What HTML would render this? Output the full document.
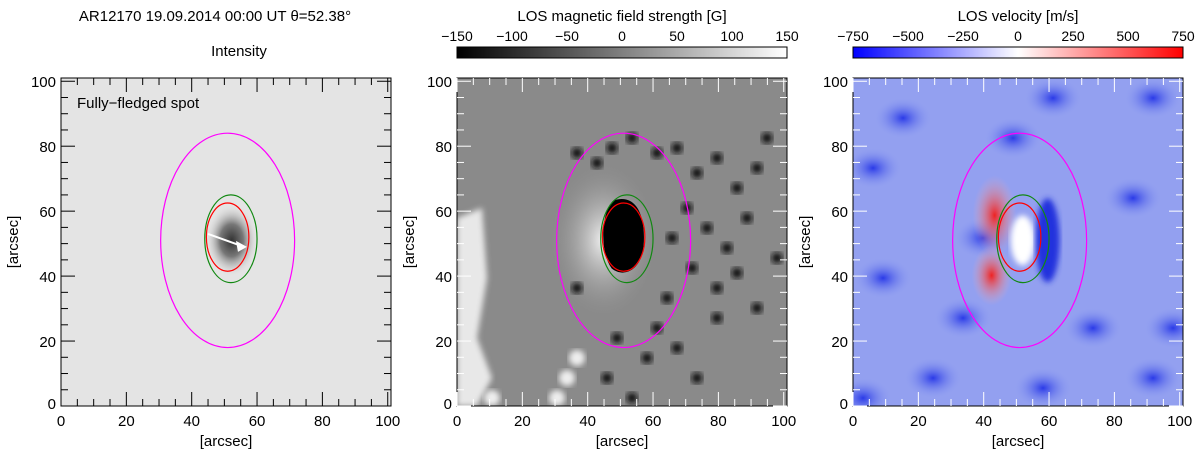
<!DOCTYPE html>
<html><head><meta charset="utf-8"><style>
body{margin:0;background:#fff;}
svg{display:block;font-family:"Liberation Sans",sans-serif;}
</style></head><body>
<svg id="fig" width="1200" height="454" viewBox="0 0 1200 454">
<defs>
<linearGradient id="gbar" x1="0" x2="1"><stop offset="0" stop-color="#000"/><stop offset="1" stop-color="#fff"/></linearGradient>
<linearGradient id="vbar" x1="0" x2="1"><stop offset="0" stop-color="#0000ff"/><stop offset="0.5" stop-color="#fff"/><stop offset="1" stop-color="#ff0000"/></linearGradient>
<radialGradient id="spot1"><stop offset="0" stop-color="#333"/><stop offset="0.45" stop-color="#777"/><stop offset="1" stop-color="#e4e4e4" stop-opacity="0"/></radialGradient>
<radialGradient id="pen2"><stop offset="0" stop-color="#fff" stop-opacity="0.9"/><stop offset="1" stop-color="#888" stop-opacity="0"/></radialGradient>
<radialGradient id="blu"><stop offset="0" stop-color="#2a3ae8"/><stop offset="1" stop-color="#8898f0" stop-opacity="0"/></radialGradient>
<radialGradient id="red3"><stop offset="0" stop-color="#ee2222"/><stop offset="1" stop-color="#f6b0b0" stop-opacity="0"/></radialGradient>
<filter id="blur"><feGaussianBlur stdDeviation="3"/></filter>
</defs>
<text x="215" y="21" font-size="15" text-anchor="middle">AR12170  19.09.2014 00:00 UT  θ=52.38°</text>
<text x="239" y="56" font-size="15" text-anchor="middle">Intensity</text>
<text x="622" y="21" font-size="15" text-anchor="middle">LOS magnetic field strength [G]</text>
<text x="1018" y="21" font-size="15" text-anchor="middle">LOS velocity [m/s]</text>
<rect x="457" y="47" width="330" height="11" fill="url(#gbar)" stroke="#000"/>
<rect x="853" y="47" width="330" height="11" fill="url(#vbar)" stroke="#000"/>
<g id="panels"></g>
</svg>
<script>
const axisTicks=[0,20,40,60,80,100];
const magTicks=[-150,-100,-50,0,50,100,150];
const velTicks=[-750,-500,-250,0,250,500,750];
const panelLefts=[61,457,853];
const magentaEllipse=[51,51,20.5,33];
const greenEllipse=[52,51.5,8,13.5];
const redEllipse=[51,52,6.5,10.5];
const arrowData=[45,53,56,49];
const NS='http://www.w3.org/2000/svg';
const svg=document.getElementById('fig');
const G=document.getElementById('panels');
const TOP=78,H=328,W=330,RANGE=101;
function el(t,a,p){const e=document.createElementNS(NS,t);for(const k in a)e.setAttribute(k,a[k]);(p||G).appendChild(e);return e;}
function sx(l,v){return l+v*W/RANGE;}
function sy(v){return TOP+H-v*H/RANGE;}
function cbar(ticks,x0){ticks.forEach((t,i)=>{const x=x0+i*W/(ticks.length-1);
const tx=el('text',{x:x,y:41,'font-size':14,'text-anchor':'middle'},svg);tx.textContent=String(t).replace('-','−');

});}
cbar(magTicks,457);cbar(velTicks,853);
const bgs=['#e4e4e4','#8a8a8a','#93a0f0'];
panelLefts.forEach((L,pi)=>{
const g=el('g',{});


const cp=el('clipPath',{id:'cp'+pi},g);el('rect',{x:L,y:TOP,width:W,height:H},cp);
const img=el('g',{'clip-path':'url(#cp'+pi+')'},g);


el('rect',{x:L,y:TOP,width:W,height:H,fill:bgs[pi]},img);
const cx=sx(L,magentaEllipse[0]),cy=sy(magentaEllipse[1]);
if(pi===0){el('ellipse',{cx:cx+4,cy:cy,rx:26,ry:36,fill:'url(#spot1)'},img);}
if(pi===1){
el('ellipse',{cx:cx-20,cy:cy,rx:55,ry:80,fill:'url(#pen2)'},img);
el('path',{d:`M${cx-10},${cy-40} C${cx+15},${cy-48} ${cx+22},${cy-20} ${cx+20},${cy+5} C${cx+18},${cy+30} ${cx},${cy+38} ${cx-12},${cy+28} C${cx-25},${cy+10} ${cx-22},${cy-30} ${cx-10},${cy-40}Z`,fill:'#000'},img);
[[120,75],[140,85],[155,70],[175,60],[200,75],[220,70],[240,95],[260,80],[280,110],[300,90],[230,130],[250,150],[270,170],[290,140],[215,160],[235,190],[260,210],[280,195],[210,220],[200,250],[220,270],[240,300],[190,280],[160,260],[150,300],[175,320],[120,210],[300,230],[320,180],[310,60],[260,240]].forEach(p=>el('circle',{cx:L+p[0],cy:TOP+p[1],r:5.5,fill:'#111',filter:'url(#blur)'},img));
el('path',{d:`M${L},${TOP+140} L${L+25},${TOP+130} L${L+30},${TOP+200} L${L+20},${TOP+260} L${L+35},${TOP+300} L${L+20},${TOP+328} L${L},${TOP+328}Z`,fill:'#e8e8e8',filter:'url(#blur)'},img);
[[120,280],[110,300],[100,320],[35,320]].forEach(p=>el('circle',{cx:L+p[0],cy:TOP+p[1],r:8,fill:'#eee',filter:'url(#blur)'},img));
}
if(pi===2){
[[50,40],[280,120],[30,200],[240,250],[300,300],[160,60],[80,300],[10,320],[130,160],[200,20],[300,20],[20,90],[320,250],[110,240],[190,310]].forEach(p=>el('ellipse',{cx:L+p[0],cy:TOP+p[1],rx:28,ry:20,fill:'url(#blu)'},img));
el('ellipse',{cx:cx-25,cy:cy-25,rx:22,ry:40,fill:'url(#red3)'},img);
el('ellipse',{cx:cx-28,cy:cy+35,rx:20,ry:30,fill:'url(#red3)'},img);
el('ellipse',{cx:cx+3,cy:cy,rx:12,ry:25,fill:'#fff',filter:'url(#blur)'},img);
el('ellipse',{cx:cx+28,cy:cy,rx:12,ry:42,fill:'#2233dd',filter:'url(#blur)'},img);
}
[[magentaEllipse,'#ff00ff'],[greenEllipse,'#118811'],[redEllipse,'#ff0000']].forEach(([e,c])=>{
const o=el('ellipse',{cx:sx(L,e[0]),cy:sy(e[1]),rx:e[2]*W/RANGE,ry:e[3]*H/RANGE,fill:'none',stroke:c,'stroke-width':1.2},img);

});
if(pi===0){
const a=el('line',{x1:sx(L,arrowData[0]),y1:sy(arrowData[1]),x2:sx(L,arrowData[2]),y2:sy(arrowData[3]),stroke:'#fff','stroke-width':2},img);


const ex=sx(L,arrowData[2]),ey=sy(arrowData[3]);
el('polygon',{points:`${ex+3},${ey} ${ex-8},${ey-6} ${ex-6},${ey+5}`,fill:'#fff'},img);
const t=el('text',{x:L+16,y:TOP+30,'font-size':15},g);t.textContent='Fully−fledged spot';


}
const fr=el('rect',{x:L,y:TOP,width:W,height:H,fill:'none',stroke:'#000','stroke-width':1},g);


const tc=pi===0?'#000':'#fff';
for(let v=0;v<=100;v+=5){const maj=v%20===0,len=maj?14:7;
const x=sx(L,v),y=sy(v);
el('line',{x1:x,y1:TOP+H,x2:x,y2:TOP+H-len,stroke:tc},g);
el('line',{x1:x,y1:TOP,x2:x,y2:TOP+len,stroke:tc},g);
el('line',{x1:L,y1:y,x2:L+len,y2:y,stroke:tc},g);
el('line',{x1:L+W,y1:y,x2:L+W-len,y2:y,stroke:tc},g);}
axisTicks.forEach(v=>{
const a=el('text',{x:sx(L,v),y:TOP+H+20,'font-size':15,'text-anchor':'middle'},g);a.textContent=v;


const b=el('text',{x:L-5,y:sy(v)+(v===0?3:6),'font-size':15,'text-anchor':'end'},g);b.textContent=v;

});
const xt=el('text',{x:L+W/2,y:TOP+H+40,'font-size':15,'text-anchor':'middle'},g);xt.textContent='[arcsec]';


const yt=el('text',{x:0,y:0,'font-size':15,'text-anchor':'middle',transform:`translate(${L-43},${TOP+H/2}) rotate(-90)`},g);yt.textContent='[arcsec]';


});
</script>
</body></html>
